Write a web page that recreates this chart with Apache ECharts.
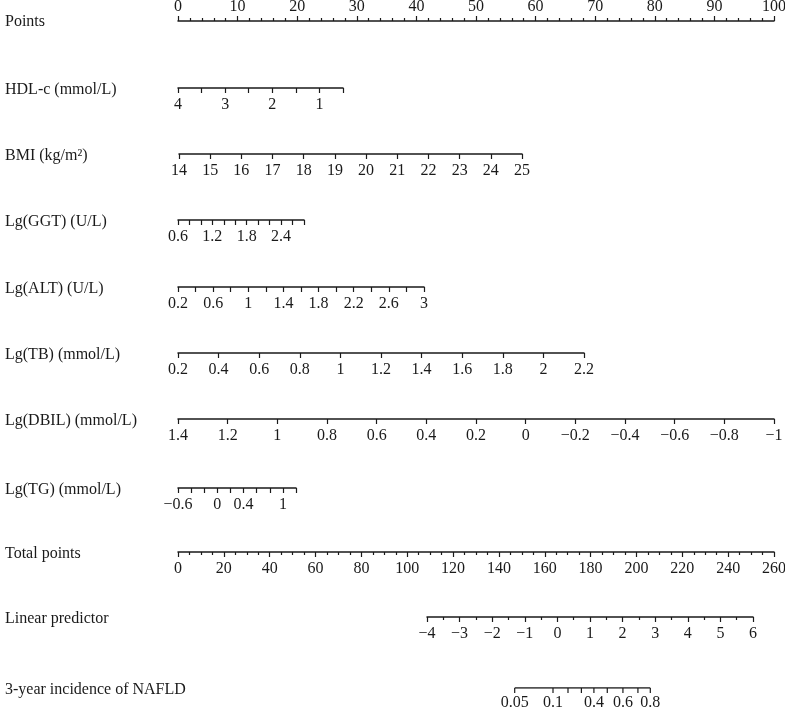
<!DOCTYPE html>
<html>
<head>
    <meta charset="utf-8">
    <title>NAFLD nomogram</title>
    <script src="https://cdn.jsdelivr.net/npm/echarts@6/dist/echarts.min.js"></script>
    <style>
        body { margin: 0; background: #fff; }
        #nomo { width: 785px; height: 707px; }
    </style>
</head>
<body>
<div id="nomo"></div>
<script type="text/javascript">
// row titles
var titles = ['Points', 'HDL-c (mmol/L)', 'BMI (kg/m²)', 'Lg(GGT) (U/L)', 'Lg(ALT) (U/L)',
    'Lg(TB) (mmol/L)', 'Lg(DBIL) (mmol/L)', 'Lg(TG) (mmol/L)', 'Total points',
    'Linear predictor', '3-year incidence of NAFLD'];

// scale ranges, tick steps and labelled values
var pointsRange = [0, 100];   var pointsStep = 10;  var pointsMinor = 5;
var hdlRange = [0.5, 4];      var hdlStep = 0.5;    var hdlLabels = [1, 2, 3, 4];
var bmiRange = [14, 25];      var bmiStep = 1;
var ggtRange = [0.6, 2.8];    var ggtStep = 0.2;    var ggtLabels = [0.6, 1.2, 1.8, 2.4];
var altRange = [0.2, 3];      var altStep = 0.2;    var altLabels = [0.2, 0.6, 1, 1.4, 1.8, 2.2, 2.6, 3];
var tbRange = [0.2, 2.2];     var tbStep = 0.2;
var dbilRange = [-1, 1.4];    var dbilStep = 0.2;
var tgRange = [-0.6, 1.2];    var tgStep = 0.2;     var tgLabels = [-0.6, 0, 0.4, 1];
var totalRange = [0, 260];    var totalStep = 20;   var totalMinor = 4;
var lpRange = [-4, 6];        var lpStep = 1;       var lpMinor = 2;
// incidence ticks, placed on the linear predictor scale
var incTicks = [0.05, 0.1, 0.2, 0.3, 0.4, 0.5, 0.6, 0.7, 0.8];
var incTickLP = [-1.31, -0.135, 0.325, 0.736, 1.12, 1.53, 2.01, 2.47, 2.85];
var incLabels = [0.05, 0.1, 0.4, 0.6, 0.8];

var FONT = 'Liberation Serif';
var FS = 16;
var INK = '#1a1a1a';

function fmt(v) {
    var s = String(+(+v).toFixed(3));
    if (s.charAt(0) === '-') s = '\u2212' + s.slice(1);
    return s;
}
function only(list) {
    return function (v) {
        for (var i = 0; i < list.length; i++) {
            if (Math.abs(list[i] - v) < 1e-6) return fmt(v);
        }
        return '';
    };
}

// layout of each row: y of axis line, left and right pixel of the scale
var rows = [
    {y: 20,  l: 178, r: 774, range: pointsRange, step: pointsStep, minor: pointsMinor, top: true},
    {y: 88,  l: 178, r: 343, range: hdlRange, step: hdlStep, labels: hdlLabels, inverse: true},
    {y: 154, l: 179, r: 522, range: bmiRange, step: bmiStep},
    {y: 220, l: 178, r: 304, range: ggtRange, step: ggtStep, labels: ggtLabels},
    {y: 287, l: 178, r: 424, range: altRange, step: altStep, labels: altLabels},
    {y: 353, l: 178, r: 584, range: tbRange, step: tbStep},
    {y: 419, l: 178, r: 774, range: dbilRange, step: dbilStep, inverse: true},
    {y: 488, l: 178, r: 296, range: tgRange, step: tgStep, labels: tgLabels},
    {y: 552, l: 178, r: 774, range: totalRange, step: totalStep, minor: totalMinor},
    {y: 617, l: 427, r: 753, range: lpRange, step: lpStep, minor: lpMinor},
    {y: 688, l: 427, r: 753, range: lpRange, step: lpStep, hidden: true}
];

var grids = [], xAxes = [], yAxes = [], series = [], graphics = [];

rows.forEach(function (row, i) {
    grids.push({left: row.l, width: row.r - row.l, top: row.top ? row.y : row.y - 1, height: 1,
        containLabel: false, outerBoundsMode: 'none'});
    xAxes.push({
        type: 'value', gridIndex: i, position: row.top ? 'top' : 'bottom',
        min: row.range[0], max: row.range[1], interval: row.step, inverse: !!row.inverse,
        splitLine: {show: false},
        axisLine: {show: !row.hidden, lineStyle: {color: INK, width: 1.5}},
        axisTick: {show: !row.hidden, length: 5, lineStyle: {color: INK, width: 1.2}},
        minorTick: {show: !!row.minor && !row.hidden, splitNumber: row.minor || 5, length: 3,
            lineStyle: {color: INK, width: 1.2}},
        axisLabel: {show: !row.hidden, margin: row.top ? 5 : 9, color: INK, fontFamily: FONT, fontSize: FS,
            formatter: row.labels ? only(row.labels) : fmt}
    });
    yAxes.push({type: 'value', gridIndex: i, min: 0, max: 1, show: false});
    graphics.push({type: 'text', left: 5, top: row.y - 6,
        style: {text: titles[i], fill: INK, font: FS + 'px "' + FONT + '"'}});
});

// incidence scale drawn on the linear predictor scale
var incIdx = rows.length - 1;
series.push({
    type: 'line', xAxisIndex: incIdx, yAxisIndex: incIdx, silent: true, symbol: 'none',
    lineStyle: {color: INK, width: 1.5},
    data: [[incTickLP[0], 0], [incTickLP[incTickLP.length - 1], 0]]
});
series.push({
    type: 'scatter', xAxisIndex: incIdx, yAxisIndex: incIdx, silent: true,
    symbol: 'rect', symbolSize: [1.2, 5], symbolOffset: [0, 2.5],
    itemStyle: {color: INK, opacity: 1},
    label: {
        show: true, position: 'bottom', distance: 2, color: INK, fontFamily: FONT, fontSize: FS,
        formatter: function (p) { return only(incLabels)(incTicks[p.dataIndex]); }
    },
    data: incTickLP.map(function (v) { return [v, 0]; })
});

var myChart = echarts.init(document.getElementById('nomo'));
myChart.setOption({
    animation: false,
    backgroundColor: '#fff',
    grid: grids,
    xAxis: xAxes,
    yAxis: yAxes,
    series: series,
    graphic: graphics
});
</script>
</body>
</html>
